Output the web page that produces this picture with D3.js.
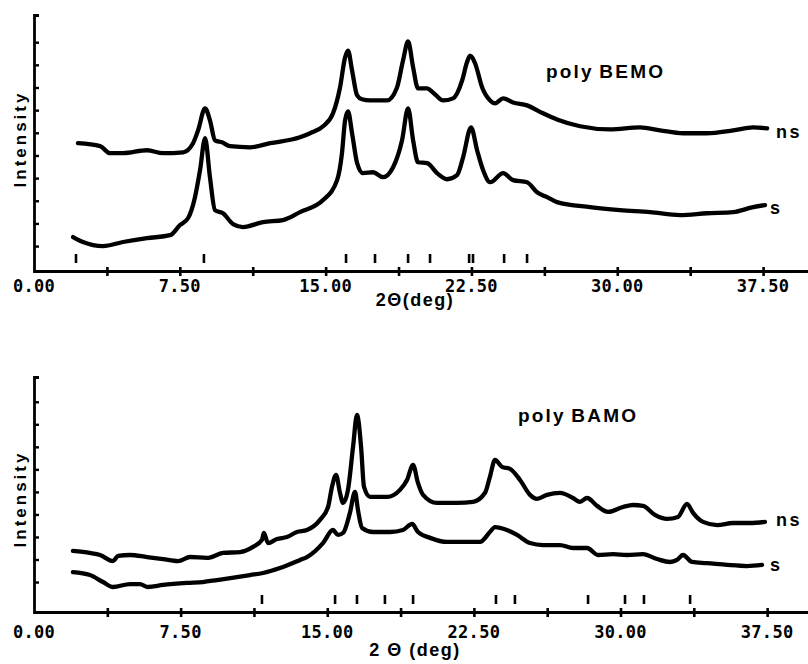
<!DOCTYPE html>
<html>
<head>
<meta charset="utf-8">
<script src="https://cdn.jsdelivr.net/npm/d3@7"></script>
<style>
  body { margin: 0; background: #fff; }
  svg { display: block; }
  .num { font-family: "DejaVu Sans Mono", monospace; font-weight: bold; font-size: 17px; letter-spacing: 0.3px; }
  .lbl { font-family: "Liberation Sans", Arial, sans-serif; font-weight: bold; }
</style>
</head>
<body>
<svg id="chart" width="808" height="664"></svg>
<script>
// x-axis ticks (2θ, deg) and labelled ticks
const xTicks = [3.75, 7.5, 11.25, 15, 18.75, 22.5, 26.25, 30, 33.75, 37.5]
const xLabels = [0, 7.5, 15, 22.5, 30, 37.5]

// poly BEMO, [2θ, intensity]
const bemoNs = [
  [2.26, 5.54], [3.40, 5.41], [3.91, 5.10], [4.58, 5.10], [5.81, 5.23], [6.64, 5.10],
  [7.67, 5.14], [8.18, 5.54], [8.44, 6.11], [8.80, 7.08], [9.05, 6.55], [9.31, 5.67],
  [9.67, 5.58], [10.08, 5.41], [11.11, 5.36], [12.14, 5.54], [13.68, 5.80], [14.20, 5.98],
  [14.87, 6.29], [15.38, 6.86], [15.74, 8.00], [16.00, 9.33], [16.15, 9.63], [16.36, 8.75],
  [16.62, 7.65], [16.87, 7.48], [17.28, 7.43], [18.16, 7.43], [18.67, 8.00], [18.98, 9.19],
  [19.24, 10.03], [19.50, 8.89], [19.75, 7.96], [20.22, 7.96], [20.52, 7.78], [21.04, 7.43],
  [21.55, 7.52], [22.02, 8.31], [22.27, 9.11], [22.43, 9.41], [22.69, 9.06], [23.05, 8.00],
  [23.46, 7.43], [23.71, 7.30], [24.13, 7.52], [24.64, 7.34], [25.36, 7.21], [26.18, 6.86],
  [26.90, 6.59], [28.09, 6.29], [29.63, 6.15], [31.17, 6.24], [32.20, 6.11], [33.38, 5.98],
  [34.62, 5.98], [35.96, 6.11], [36.99, 6.24], [37.71, 6.20]
]
const bemoS = [
  [2.01, 1.40], [2.52, 1.18], [3.55, 1.00], [4.58, 1.18], [5.81, 1.35], [7.00, 1.48],
  [7.51, 1.93], [7.92, 2.23], [8.28, 3.16], [8.54, 4.35], [8.80, 5.76], [9.05, 4.04],
  [9.31, 2.59], [9.72, 2.45], [10.24, 1.97], [10.75, 1.84], [11.78, 2.06], [12.81, 2.15],
  [13.68, 2.50], [14.87, 3.03], [15.59, 3.91], [15.84, 5.10], [16.00, 6.55], [16.15, 6.95],
  [16.36, 5.98], [16.62, 4.66], [16.92, 4.22], [17.44, 4.26], [17.95, 4.04], [18.47, 4.48],
  [18.93, 5.67], [19.24, 7.08], [19.50, 5.67], [19.75, 4.70], [20.22, 4.66], [20.73, 4.22],
  [21.24, 3.95], [21.76, 4.13], [22.07, 4.92], [22.48, 6.24], [22.79, 5.23], [23.10, 4.35],
  [23.46, 3.82], [24.13, 4.22], [24.64, 3.91], [25.36, 3.82], [25.87, 3.38], [26.39, 3.16],
  [26.90, 2.94], [28.60, 2.72], [30.14, 2.59], [31.69, 2.50], [33.23, 2.37], [34.62, 2.45],
  [35.96, 2.50], [36.99, 2.72], [37.60, 2.81]
]
const bemoRefs = [2.16, 8.74, 16.05, 17.54, 19.24, 20.37, 22.38, 22.58, 24.18, 25.36]

// poly BAMO
const bamoNs = [
  [1.99, 2.38], [2.86, 2.29], [3.38, 2.20], [4.04, 1.93], [4.30, 2.16], [4.91, 2.20],
  [5.78, 2.11], [6.60, 2.02], [7.37, 1.93], [7.98, 2.11], [8.85, 2.07], [9.67, 2.29],
  [10.54, 2.33], [11.20, 2.56], [11.66, 2.87], [11.76, 3.18], [11.97, 2.73], [12.43, 2.91],
  [12.94, 3.00], [13.45, 3.22], [13.96, 3.31], [14.63, 3.76], [15.04, 4.33], [15.24, 5.22],
  [15.45, 5.76], [15.65, 4.96], [15.81, 4.51], [16.06, 5.09], [16.32, 7.00], [16.52, 8.42],
  [16.73, 7.00], [16.88, 5.22], [17.19, 4.78], [18.06, 4.78], [18.72, 5.09], [19.08, 5.53],
  [19.39, 6.20], [19.64, 5.40], [19.90, 4.87], [20.61, 4.51], [21.64, 4.51], [22.46, 4.56],
  [23.07, 4.96], [23.32, 5.67], [23.58, 6.42], [23.94, 6.11], [24.35, 6.02], [24.86, 5.53],
  [25.37, 4.87], [25.73, 4.69], [26.24, 4.87], [26.91, 4.96], [27.57, 4.73], [27.93, 4.56],
  [28.29, 4.73], [28.80, 4.38], [29.36, 4.11], [30.13, 4.33], [30.64, 4.42], [31.15, 4.38],
  [31.76, 3.98], [32.38, 3.80], [32.94, 3.89], [33.40, 4.47], [33.71, 4.07], [34.22, 3.67],
  [34.94, 3.53], [35.75, 3.62], [36.62, 3.62], [37.39, 3.67]
]
const bamoS = [
  [1.99, 1.44], [2.86, 1.31], [3.53, 1.00], [4.04, 0.78], [4.91, 0.91], [5.42, 0.91],
  [5.83, 0.78], [6.60, 0.87], [7.83, 0.96], [8.64, 1.00], [9.36, 1.09], [10.38, 1.22],
  [11.05, 1.31], [11.71, 1.40], [12.58, 1.62], [13.61, 1.98], [13.96, 2.11], [14.78, 2.73],
  [15.29, 3.31], [15.55, 3.09], [15.81, 3.18], [16.16, 4.07], [16.42, 5.00], [16.57, 4.20],
  [16.78, 3.40], [17.34, 3.22], [18.21, 3.22], [18.87, 3.31], [19.34, 3.58], [19.64, 3.22],
  [20.26, 2.96], [21.13, 2.78], [22.15, 2.78], [22.81, 2.78], [23.32, 3.22], [23.58, 3.44],
  [24.19, 3.31], [24.71, 3.09], [25.37, 2.73], [26.04, 2.64], [26.91, 2.64], [27.57, 2.51],
  [28.29, 2.51], [28.85, 2.20], [29.62, 2.24], [30.33, 2.20], [31.15, 2.24], [31.87, 2.02],
  [32.53, 1.89], [32.89, 1.98], [33.20, 2.20], [33.66, 1.89], [34.42, 1.84], [35.45, 1.76],
  [36.47, 1.71], [37.24, 1.76]
]
const bamoRefs = [11.66, 15.40, 16.52, 17.95, 19.39, 23.63, 24.60, 28.34, 30.23, 31.20, 33.56]

const bemoYTicks = [1, 2, 3, 4, 5, 6, 7, 8, 9, 10]
const bamoYTicks = [1, 2, 3, 4, 5, 6, 7, 8, 9]

const svg = d3.select("#chart")

const panels = [
  { name: "poly BEMO", ns: bemoNs, s: bemoS, refs: bemoRefs, yTicks: bemoYTicks,
    xDomain: [0, 39.81], yDomain: [-0.1, 11.2], yRange: [271, 15],
    title: "2Θ(deg)", titleY: 306, labelY: 292, intensityY: 139,
    nameX: 546, nameY: 78, nsY: 138, sY: 214 },
  { name: "poly BAMO", ns: bamoNs, s: bamoS, refs: bamoRefs, yTicks: bamoYTicks,
    xDomain: [0, 39.59], yDomain: [-0.33, 10.1], yRange: [612, 377],
    title: "2 Θ (deg)", titleY: 656, labelY: 638, intensityY: 499,
    nameX: 518, nameY: 422, nsY: 526, sY: 571 }
]

panels.forEach(p => {
  const x = d3.scaleLinear().domain(p.xDomain).range([34, 808])
  const y = d3.scaleLinear().domain(p.yDomain).range(p.yRange)
  const base = p.yRange[0]
  const g = svg.append("g")

  // x axis
  const xAxis = d3.axisBottom(x)
    .tickValues(xTicks)
    .tickSizeOuter(0)
    .tickFormat("")
  const gx = g.append("g")
    .attr("transform", "translate(0," + base + ")")
    .call(xAxis)
  gx.select(".domain").attr("stroke-width", 2.8)
  gx.selectAll(".tick line").attr("y1", -4).attr("y2", 5).attr("stroke-width", 2.6)

  g.selectAll(".xlab")
    .data(xLabels)
    .enter().append("text")
    .attr("class", "num")
    .attr("x", d => x(d))
    .attr("y", p.labelY)
    .attr("text-anchor", "middle")
    .text(d => d3.format(".2f")(d))

  // y axis
  const yAxis = d3.axisRight(y)
    .tickValues(p.yTicks)
    .tickSizeOuter(0)
    .tickSize(5)
    .tickFormat("")
  const gy = g.append("g")
    .attr("transform", "translate(34,0)")
    .call(yAxis)
  gy.select(".domain").attr("stroke-width", 2.8)
  gy.selectAll(".tick line").attr("stroke-width", 2.4)

  // reference peak markers
  g.selectAll(".ref")
    .data(p.refs)
    .enter().append("line")
    .attr("x1", d => x(d)).attr("x2", d => x(d))
    .attr("y1", base - 17).attr("y2", base - 8)
    .attr("stroke", "#000")
    .attr("stroke-width", 2.6)

  const line = d3.line()
    .x(d => x(d[0]))
    .y(d => y(d[1]))
    .curve(d3.curveMonotoneX)

  ;[p.ns, p.s].forEach(series => {
    g.append("path")
      .datum(series)
      .attr("d", line)
      .attr("fill", "none")
      .attr("stroke", "#000")
      .attr("stroke-width", 4.3)
      .attr("stroke-linejoin", "round")
      .attr("stroke-linecap", "round")
  })

  // texts
  g.append("text").attr("class", "lbl")
    .attr("x", p.nameX).attr("y", p.nameY)
    .attr("font-size", 19).attr("letter-spacing", 2.2).attr("word-spacing", -2)
    .text(p.name)

  g.append("text").attr("class", "lbl")
    .attr("x", 776).attr("y", p.nsY)
    .attr("font-size", 18).attr("letter-spacing", 2.5)
    .text("ns")
  g.append("text").attr("class", "lbl")
    .attr("x", 770).attr("y", p.sY)
    .attr("font-size", 18)
    .text("s")

  g.append("text").attr("class", "lbl")
    .attr("x", 415).attr("y", p.titleY)
    .attr("text-anchor", "middle")
    .attr("font-size", 18).attr("letter-spacing", 1.5)
    .text(p.title)

  g.append("text").attr("class", "lbl")
    .attr("transform", "translate(26," + p.intensityY + ") rotate(-90)")
    .attr("text-anchor", "middle")
    .attr("font-size", 17).attr("letter-spacing", 3)
    .text("Intensity")
})
</script>
</body>
</html>
